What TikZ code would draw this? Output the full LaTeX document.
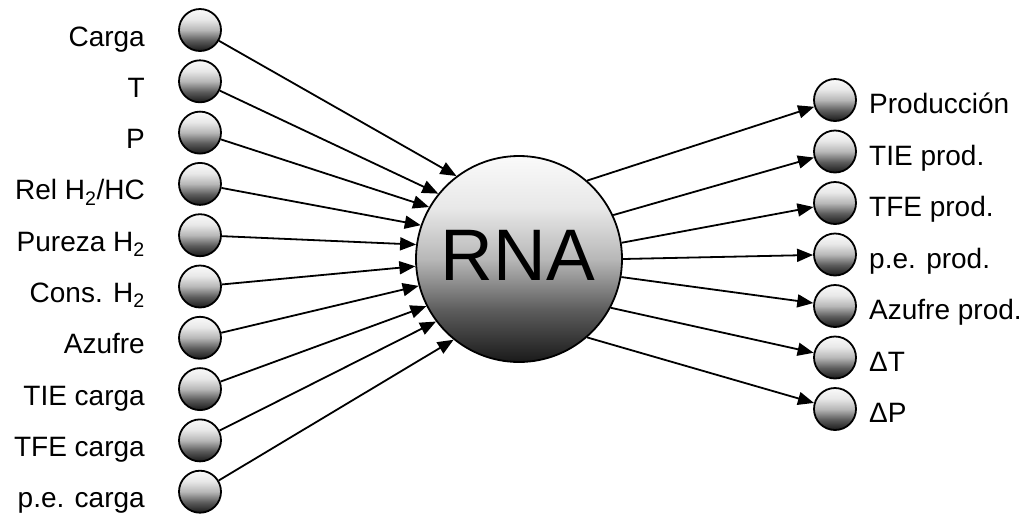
\documentclass[tikz,border=0pt]{standalone}
\usepackage{fontspec}
\setmainfont{Liberation Sans}
\usetikzlibrary{arrows.meta}
\pgfdeclareverticalshading{ballshade}{100bp}{%
  color(0bp)=(black!90); color(25bp)=(black!90);
  color(37.5bp)=(black!64); color(50bp)=(black!28);
  color(62.5bp)=(black!9); color(75bp)=(black!2); color(100bp)=(black!2)}
\tikzset{
  ball/.style={circle, draw=black, line width=1.8pt, shading=ballshade, inner sep=0pt, minimum size=42pt},
  bigball/.style={circle, draw=black, line width=1.8pt, shading=ballshade, inner sep=0pt, minimum size=206pt},
  lab/.style={font=\fontsize{28}{30}\selectfont, inner sep=0pt},
  conn/.style={line width=1.8pt, -{Triangle[length=16pt,width=13pt]}}
}
\begin{document}
\begin{tikzpicture}[x=1pt,y=-1pt]
\useasboundingbox (0,0) rectangle (1029,515);
% big node
\node[bigball] (rna) at (519,259) {};
\node[font=\fontsize{73}{75}\selectfont, inner sep=0pt, anchor=base] (rnalabel) at (518,280) {RNA};
% left inputs
\foreach \i/\t/\a in {0/Carga/127.3, 1/T/141, 2/P/150.5, 3/{Rel H\textsubscript{2}/HC}/161,
  4/{Pureza H\textsubscript{2}}/172, 5/{Cons. H\textsubscript{2}}/184, 6/Azufre/195.5,
  7/TIE carga/207, 8/TFE carga/217, 9/p.e. carga/231} {
  \pgfmathsetmacro{\yy}{30+51.3*\i}
  \node[ball] (l\i) at (200,\yy) {};
  \node[lab, anchor=base east] (lt\i) at (145,\yy+16) {\t};
  \draw[conn] (l\i) -- (rna.\a);
}
% right outputs
\foreach \i/\t/\a in {0/Producción/49, 1/TIE prod./25, 2/TFE prod./9, 3/p.e. prod./0,
  4/Azufre prod./-10, 5/ΔT/-28.5, 6/ΔP/-49} {
  \pgfmathsetmacro{\yy}{100+51.5*\i}
  \node[ball] (r\i) at (835,\yy) {};
  \node[lab, anchor=base west] (rt\i) at (869,\yy+13.5) {\t};
  \draw[conn] (rna.\a) -- (r\i);
}
\end{tikzpicture}
\end{document}
